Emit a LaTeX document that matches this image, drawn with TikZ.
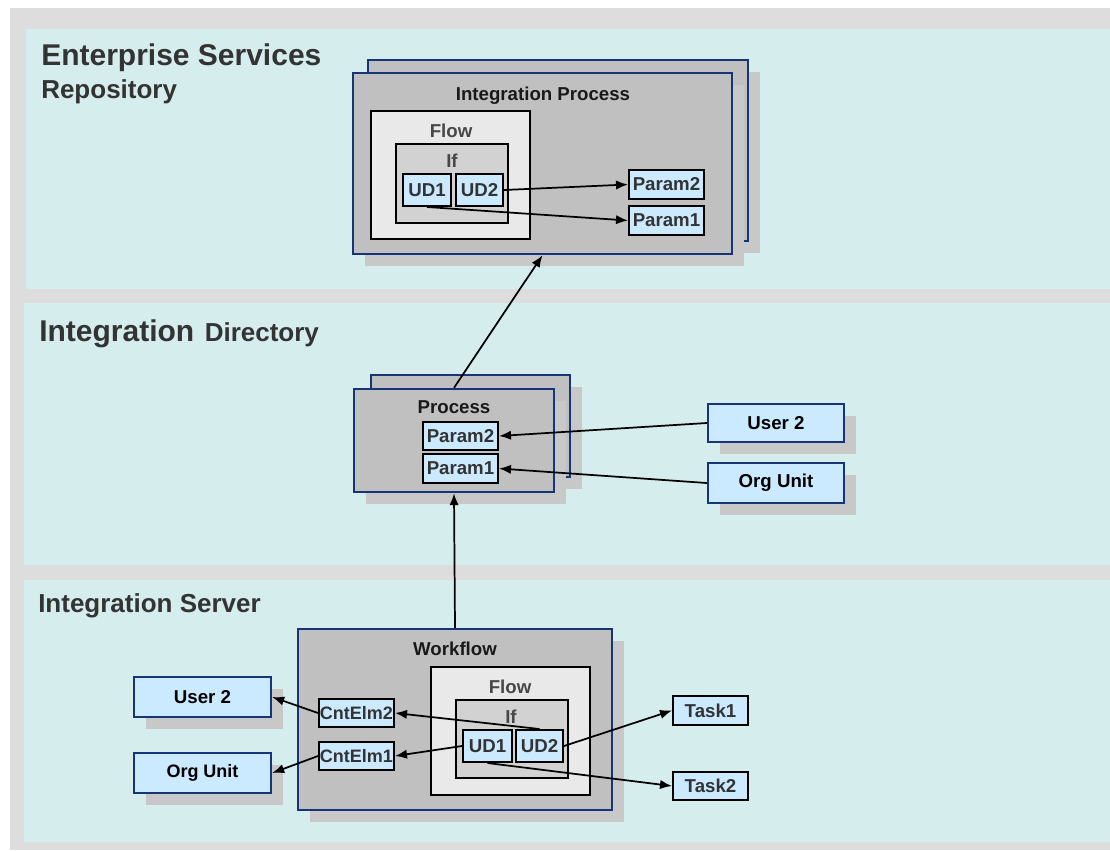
\documentclass[tikz,border=0pt]{standalone}
\usepackage{fontspec}
\setmainfont{Liberation Sans}
\usetikzlibrary{fit,shadows,arrows.meta}
\definecolor{bggrey}{RGB}{221,221,221}
\definecolor{layercyan}{RGB}{213,237,237}
\definecolor{boxgrey}{RGB}{192,192,192}
\definecolor{shadegrey}{RGB}{200,200,200}
\definecolor{navy}{RGB}{22,52,120}
\definecolor{flowgrey}{RGB}{233,233,233}
\definecolor{ifgrey}{RGB}{210,210,210}
\definecolor{elemblue}{RGB}{204,234,255}
\definecolor{textgrey}{RGB}{51,51,51}

\begin{document}
\begin{tikzpicture}[x=0.75pt, y=-0.75pt,
  every node/.style={font=\bfseries\fontsize{14}{16}\selectfont, inner sep=0pt},
  shadowed/.style={drop shadow={shadow xshift=9pt, shadow yshift=-9pt, fill=shadegrey, opacity=1}},
  container/.style={draw=navy, line width=1.8pt, fill=boxgrey, shadowed},
  flowbox/.style={draw=black, line width=1.5pt, fill=flowgrey},
  ifbox/.style={draw=black, line width=1.5pt, fill=ifgrey},
  elem/.style={draw=black, line width=1.5pt, fill=elemblue},
  elemtext/.style={text=textgrey},
  actor/.style={draw=navy, line width=1.8pt, fill=elemblue, shadowed},
  title/.style={anchor=base, text=black!90},
  sub/.style={anchor=base, text=black!72},
  layertitle/.style={anchor=base west, text=textgrey, font=\bfseries\fontsize{19.5}{22}\selectfont},
  big/.style={font=\bfseries\fontsize{22.5}{26}\selectfont},
  narrow/.style={font=\bfseries\fontsize{13.5}{16}\selectfont},
  flow/.style={-{Latex[length=9pt,width=7pt]}, line width=1.3pt}]

% Background and the three layers
\useasboundingbox (0,0) rectangle (1110,850);
\fill[bggrey] (10,8) rectangle (1110,850);
\fill[layercyan] (26,29) rectangle (1110,289);
\fill[layercyan] (24,303) rectangle (1110,565);
\fill[layercyan] (24,580) rectangle (1110,842);

% Layer titles
\node[layertitle, big] (esr) at (41,65) {Enterprise Services};
\node[layertitle] (esrSub) at (41,98) {Repository};
\node[layertitle, big] (dir) at (39,341) {Integration};
\node[layertitle] (dirSub) at ([xshift=7.5pt]dir.base east) {Directory};
\node[layertitle] (srv) at (38,612) {Integration Server};

% Enterprise Services Repository
\node[container, fit={(368,60) (748,241)}] (ipBack) {};
\node[container, fit={(353,73) (732,254)}] (ip) {};
\node[title] (ipTitle) at (543,100) {Integration Process};
\node[flowbox, fit={(371,111) (530,239)}] (ipFlow) {};
\node[sub] (ipFlowTitle) at (451,137) {Flow};
\node[ifbox, fit={(396,144) (508,223)}] (ipIf) {};
\node[sub] (ipIfTitle) at (452,167) {If};
\node[elem, fit={(403,174) (451,206)}, label={[elemtext]center:UD1}] (ipUD1) {};
\node[elem, fit={(456,174) (503,206)}, label={[elemtext]center:UD2}] (ipUD2) {};
\node[elem, fit={(629,170) (704,199)}, label={[elemtext]center:Param2}] (ipP2) {};
\node[elem, fit={(629,206) (704,235)}, label={[elemtext]center:Param1}] (ipP1) {};

% Integration Directory
\node[container, fit={(371,375) (570,477)}] (procBack) {};
\node[container, fit={(354,389) (554,492)}] (proc) {};
\node[title] (procTitle) at (454,413) {Process};
\node[elem, fit={(423,422) (498,450)}, label={[elemtext]center:Param2}] (prP2) {};
\node[elem, fit={(423,454) (498,483)}, label={[elemtext]center:Param1}] (prP1) {};
\node[actor, fit={(708,404) (844,442)}, label={center:User 2}] (dirUser) {};
\node[actor, fit={(708,463) (844,503)}, label={center:Org Unit}] (dirOrg) {};

% Integration Server
\node[container, fit={(298,629) (612,810)}] (wf) {};
\node[title] (wfTitle) at (455,655) {Workflow};
\node[flowbox, fit={(431,667) (590,795)}] (wfFlow) {};
\node[sub] (wfFlowTitle) at (510,693) {Flow};
\node[ifbox, fit={(456,700) (568,778)}] (wfIf) {};
\node[sub] (wfIfTitle) at (511,723) {If};
\node[elem, fit={(463,730) (512,762)}, label={[elemtext]center:UD1}] (wfUD1) {};
\node[elem, fit={(516,730) (563,762)}, label={[elemtext]center:UD2}] (wfUD2) {};
\node[elem, fit={(319,699) (394,727)}, label={[elemtext, narrow]center:CntElm2}] (ce2) {};
\node[elem, fit={(319,742) (394,770)}, label={[elemtext, narrow]center:CntElm1}] (ce1) {};
\node[actor, fit={(134,677) (271,717)}, label={center:User 2}] (srvUser) {};
\node[actor, fit={(134,753) (271,793)}, label={[narrow]center:Org Unit}] (srvOrg) {};
\node[elem, fit={(673,696) (748,725)}, label={[elemtext]center:Task1}] (task1) {};
\node[elem, fit={(673,772) (748,800)}, label={[elemtext]center:Task2}] (task2) {};

% Draw the arrows between the nodes
\draw[flow] (ipUD2.east) -- (ipP2.west);
\draw[flow] (ipUD1.south) -- (ipP1.west);
\draw[flow] (proc.north) -- (ip.south);
\draw[flow] (dirUser.west) -- (prP2.east);
\draw[flow] (dirOrg.west) -- (prP1.east);
\draw[flow] (wf.north) -- (proc.south);
\draw[flow] (ce2.west) -- (srvUser.east);
\draw[flow] (ce1.west) -- (srvOrg.east);
\draw[flow] (wfUD2.north) -- (ce2.east);
\draw[flow] (wfUD1.west) -- (ce1.east);
\draw[flow] (wfUD2.east) -- (task1.west);
\draw[flow] (wfUD1.south) -- (task2.west);

\end{tikzpicture}
\end{document}
